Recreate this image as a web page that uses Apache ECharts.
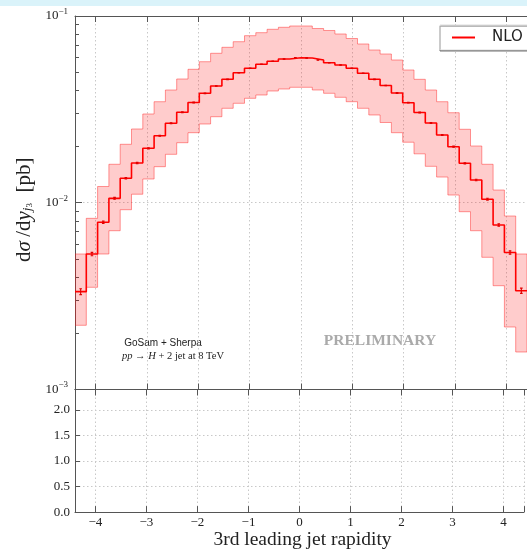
<!DOCTYPE html>
<html><head><meta charset="utf-8">
<script src="https://cdn.jsdelivr.net/npm/echarts@6/dist/echarts.min.js"></script>
<style>html,body{margin:0;padding:0;background:#fff}#c{width:527px;height:551px}</style>
</head><body><div id="c"></div>
<script>
// ---- data ----
const binEdges = [-4.4,-4.18,-3.96,-3.74,-3.52,-3.3,-3.08,-2.86,-2.64,-2.42,-2.2,-1.98,-1.76,-1.54,-1.32,-1.1,-0.88,-0.66,-0.44,-0.22,0,0.22,0.44,0.66,0.88,1.1,1.32,1.54,1.76,1.98,2.2,2.42,2.64,2.86,3.08,3.3,3.52,3.74,3.96,4.18,4.4];
const nloCentral = [3.341e-3,5.316e-3,7.860e-3,1.056e-2,1.352e-2,1.633e-2,1.957e-2,2.286e-2,2.664e-2,3.050e-2,
  3.442e-2,3.856e-2,4.219e-2,4.581e-2,4.971e-2,5.247e-2,5.513e-2,5.720e-2,5.884e-2,5.980e-2,
  5.958e-2,5.813e-2,5.622e-2,5.465e-2,5.247e-2,4.934e-2,4.581e-2,4.244e-2,3.870e-2,3.433e-2,
  3.043e-2,2.673e-2,2.306e-2,1.996e-2,1.626e-2,1.324e-2,1.045e-2,7.603e-3,5.415e-3,3.381e-3];
const nloUpper = [5.316e-3,8.252e-3,1.222e-2,1.607e-2,2.056e-2,2.483e-2,2.987e-2,3.476e-2,4.015e-2,4.599e-2,
  5.183e-2,5.692e-2,6.314e-2,6.798e-2,7.285e-2,7.845e-2,8.141e-2,8.488e-2,8.700e-2,8.841e-2,
  8.841e-2,8.573e-2,8.364e-2,8.010e-2,7.578e-2,7.081e-2,6.575e-2,6.259e-2,5.813e-2,5.138e-2,
  4.581e-2,4.015e-2,3.476e-2,3.035e-2,2.474e-2,2.013e-2,1.607e-2,1.170e-2,8.492e-3,5.316e-3];
const nloLower = [2.207e-3,3.526e-3,5.316e-3,7.084e-3,9.180e-3,1.111e-2,1.340e-2,1.560e-2,1.817e-2,2.097e-2,
  2.372e-2,2.641e-2,2.889e-2,3.205e-2,3.408e-2,3.625e-2,3.776e-2,3.967e-2,4.066e-2,4.152e-2,
  4.152e-2,4.015e-2,3.856e-2,3.670e-2,3.476e-2,3.205e-2,2.951e-2,2.690e-2,2.372e-2,2.109e-2,
  1.828e-2,1.567e-2,1.373e-2,1.100e-2,8.956e-3,7.084e-3,5.104e-3,3.596e-3,2.161e-3,1.588e-3];
const nloStatErr = [1.2e-4,1.1e-4,1.1e-4,1.2e-4,1.3e-4,1.3e-4,1.4e-4,1.4e-4,1.5e-4,1.5e-4,
  1.5e-4,1.6e-4,1.6e-4,1.6e-4,1.6e-4,1.7e-4,1.7e-4,1.7e-4,1.7e-4,1.7e-4,
  1.7e-4,1.7e-4,1.7e-4,1.7e-4,1.7e-4,1.6e-4,1.6e-4,1.6e-4,1.6e-4,1.5e-4,
  1.5e-4,1.5e-4,1.4e-4,1.4e-4,1.3e-4,1.3e-4,1.2e-4,1.1e-4,1.1e-4,1.1e-4];
const logMinorTicks = [0.002,0.003,0.004,0.005,0.006,0.007,0.008,0.009,0.02,0.03,0.04,0.05,0.06,0.07,0.08,0.09];
const seriesName = 'NLO';

// ---- helpers ----
function stepData(vals){
  const d = vals.map((v,i)=>[binEdges[i], v]);
  d.push([binEdges[vals.length], vals[vals.length-1]]);
  return d;
}
const serif = 'Liberation Serif';
const gridLine = {show:true, lineStyle:{color:'#c8c8c8', type:[1.5,2.5], width:1}};
const axLine = {show:true, onZero:false, lineStyle:{color:'#555', width:1}};
const tickIn = (len)=>({show:true, inside:true, length:len, lineStyle:{color:'#555', width:1}});
const xFmt = v => (Math.abs(v-Math.round(v))<1e-6) ? (v<0 ? '\u2212'+Math.abs(Math.round(v)) : String(Math.round(v))) : '';

const chart = echarts.init(document.getElementById('c'), null, {renderer:'canvas'});
const G0 = {left:75, top:16, width:456, height:373.5};
const G1 = {left:75, top:389.5, width:456, height:125.7};

chart.setOption({
  backgroundColor:'#fff',
  animation:false,
  grid:[G0, G1],
  legend:{
    data:[{name:seriesName, icon:'rect'}],
    left:440, top:25, orient:'horizontal',
    itemWidth:23, itemHeight:2, itemGap:0,
    padding:[5,30,5,12],
    backgroundColor:'#fff', borderColor:'#dcdcdc', borderWidth:1,
    shadowColor:'rgba(0,0,0,0.55)', shadowBlur:0, shadowOffsetY:1,
    textStyle:{fontFamily:'DejaVu Sans', fontSize:15, color:'#222', padding:[0,0,0,12]}
  },
  xAxis:[
    {type:'value', gridIndex:0, min:-4.4, max:4.4, splitNumber:9, position:'bottom',
     axisLine:axLine, axisTick:tickIn(6), axisLabel:{show:false}, splitLine:gridLine},
    {type:'value', gridIndex:0, min:-4.4, max:4.4, splitNumber:9, position:'top',
     axisLine:axLine, axisTick:tickIn(6), axisLabel:{show:false}, splitLine:{show:false}},
    {type:'value', gridIndex:1, min:-4.4, max:4.4, splitNumber:9, position:'bottom',
     axisLine:axLine, axisTick:tickIn(6),
     axisLabel:{formatter:xFmt, fontFamily:serif, fontSize:13, color:'#222', margin:4},
     splitLine:gridLine,
     name:'3rd leading jet rapidity', nameLocation:'middle', nameGap:16,
     nameTextStyle:{fontFamily:serif, fontSize:19.5, color:'#222', padding:[0,0,0,6]}},
    {type:'value', gridIndex:1, min:-4.4, max:4.4, splitNumber:9, position:'top',
     axisLine:axLine, axisTick:tickIn(6), axisLabel:{show:false}, splitLine:{show:false}}
  ],
  yAxis:[
    {type:'log', logBase:10, gridIndex:0, min:0.001, max:0.1, position:'left',
     axisLine:axLine, axisTick:tickIn(7), splitLine:gridLine,
     axisLabel:{margin:7, formatter:v=>'{b|10}{e|\u2212'+Math.round(-Math.log10(v))+'}',
       rich:{b:{fontFamily:serif, fontSize:13, color:'#222'}, e:{fontFamily:serif, fontSize:9, color:'#222', padding:[0,0,9,0]}}},
     name:'{n|d}{i|\u03c3\u2009}{n|/d}{i|y}{s|j}{t|3}{n|  [pb]}', nameLocation:'middle', nameGap:29, nameRotate:90,
     nameTextStyle:{padding:[0,14,0,0], rich:{
       n:{fontFamily:serif, fontSize:21, color:'#222'},
       i:{fontFamily:serif, fontSize:21, fontStyle:'italic', color:'#222'},
       s:{fontFamily:serif, fontSize:13, fontStyle:'italic', color:'#222', padding:[7,0,0,0]},
       t:{fontFamily:serif, fontSize:9, color:'#222', padding:[11,0,0,0]}}}},
    {type:'log', logBase:10, gridIndex:0, min:0.001, max:0.1, position:'left',
     axisLine:{show:false, onZero:false}, splitLine:{show:false}, axisLabel:{show:false},
     axisTick:{show:true, inside:true, length:4, customValues:logMinorTicks, lineStyle:{color:'#555'}}},
    {type:'value', gridIndex:1, min:0, max:2.4, interval:0.5, position:'left',
     axisLine:axLine, axisTick:tickIn(5), splitLine:gridLine,
     axisLabel:{margin:5, fontFamily:serif, fontSize:13, color:'#222',
       formatter:v=> (Math.abs(v/0.5-Math.round(v/0.5))<1e-6) ? v.toFixed(1) : ''}}
  ],
  series:[
    {type:'custom', name:'band', xAxisIndex:0, yAxisIndex:0, silent:true, clip:true, z:2,
     data: nloCentral.map((c,i)=>[binEdges[i], binEdges[i+1], nloLower[i], nloUpper[i]]),
     encode:{x:[0,1], y:[2,3]},
     renderItem:(params, api)=>{
       if (params.dataIndex !== 0) return null;
       const pts = [];
       for (let i=0;i<nloUpper.length;i++){
         pts.push(api.coord([binEdges[i], nloUpper[i]]));
         pts.push(api.coord([binEdges[i+1], nloUpper[i]]));
       }
       for (let i=nloLower.length-1;i>=0;i--){
         pts.push(api.coord([binEdges[i+1], nloLower[i]]));
         pts.push(api.coord([binEdges[i], nloLower[i]]));
       }
       return {type:'polygon', shape:{points:pts},
         style:{fill:'rgba(255,0,0,0.2)', stroke:'rgba(255,30,30,0.45)', lineWidth:1}};
     }},
    {type:'line', name:seriesName, xAxisIndex:0, yAxisIndex:0, step:'end',
     data: stepData(nloCentral), showSymbol:false, symbol:'none', z:5,
     lineStyle:{color:'#ff0000', width:1.6}, itemStyle:{color:'#ff0000'}},
    {type:'custom', name:'stat', xAxisIndex:0, yAxisIndex:0, silent:true, clip:true, z:6,
     data: nloCentral.map((c,i)=>[(binEdges[i]+binEdges[i+1])/2, c-nloStatErr[i], c+nloStatErr[i]]),
     encode:{x:0, y:[1,2]},
     renderItem:(params, api)=>{
       const lo = api.coord([api.value(0), api.value(1)]);
       const hi = api.coord([api.value(0), api.value(2)]);
       const st = {stroke:'#e00000', lineWidth:1.1};
       return {type:'group', children:[
         {type:'line', shape:{x1:lo[0], y1:lo[1], x2:hi[0], y2:hi[1]}, style:st},
         {type:'line', shape:{x1:lo[0]-1.3, y1:lo[1], x2:lo[0]+1.3, y2:lo[1]}, style:st},
         {type:'line', shape:{x1:hi[0]-1.3, y1:hi[1], x2:hi[0]+1.3, y2:hi[1]}, style:st}
       ]};
     }}
  ],
  graphic:[
    {type:'rect', left:0, top:0, shape:{width:527, height:6}, style:{fill:'#daf3fa'}, silent:true},
    {type:'text', x:163, y:343, style:{text:'GoSam + Sherpa', fontFamily:'Liberation Sans', fontSize:10, fill:'#222', align:'center', verticalAlign:'middle'}},
    {type:'text', x:173, y:356, style:{
      text:'{it|pp}{r| \u2192 }{it|H}{r| + 2 jet at 8 TeV}', align:'center', verticalAlign:'middle',
      rich:{it:{fontFamily:serif, fontStyle:'italic', fontSize:10.5, fill:'#222'}, r:{fontFamily:serif, fontSize:10.5, fill:'#222'}}}},
    {type:'text', x:380, y:341, style:{text:'PRELIMINARY', fontFamily:serif, fontWeight:'bold', fontSize:15.5, fill:'#aaaaaa', align:'center', verticalAlign:'middle'}}
  ]
});
</script></body></html>
